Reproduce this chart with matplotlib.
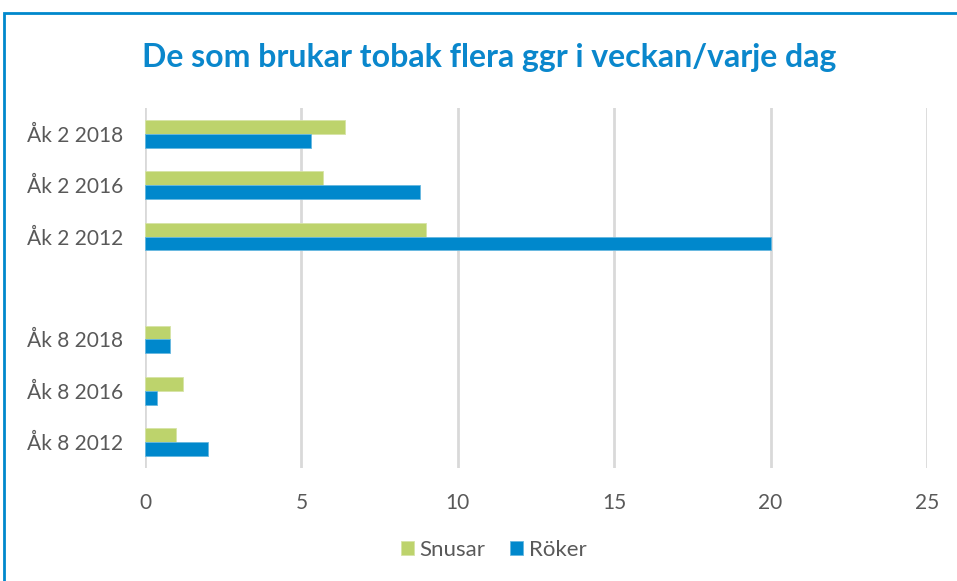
import numpy as np
import matplotlib.pyplot as plt
from matplotlib.patches import Rectangle

plt.rcParams['font.family'] = ['Lato', 'DejaVu Sans']

# data, top to bottom
groups = ["Åk 2 2018", "Åk 2 2016", "Åk 2 2012", "Åk 8 2018", "Åk 8 2016", "Åk 8 2012"]
snusar = [6.4, 5.7, 9.0, 0.8, 1.2, 1.0]
roker = [5.3, 8.8, 20.0, 0.8, 0.4, 2.0]
xticks = [0, 5, 10, 15, 20, 25]

green = "#bdd36c"
blue = "#0088cc"
title_blue = "#0a87cc"
text_gray = "#595959"

fig = plt.figure(figsize=(9.57, 5.81), dpi=100)
ax = fig.add_axes([0.1515, 0.1945, 0.8171, 0.6196])

# empty slot between Åk 2 and Åk 8
pos = np.array([0, 1, 2, 4, 5, 6])
h = 0.27
ax.barh(pos - h / 2, snusar, height=h, color=green, edgecolor="#d6e4a6", linewidth=0.6, label="Snusar", zorder=3)
ax.barh(pos + h / 2, roker, height=h, color=blue, edgecolor="#66b8e0", linewidth=0.6, label="Röker", zorder=3)

ax.set_ylim(6.5, -0.5)
ax.set_xlim(0, 25)
ax.set_yticks(pos)
ax.set_yticklabels(groups, fontsize=15, color=text_gray)
ax.set_xticks(xticks)
ax.set_xticklabels([str(t) for t in xticks], fontsize=15, color=text_gray)
ax.tick_params(length=0)
ax.tick_params(axis="y", pad=16)
ax.tick_params(axis="x", pad=18)
ax.grid(axis="x", color="#d9d9d9", linewidth=2, zorder=0)
for s in ax.spines.values():
    s.set_visible(False)

fig.text(0.511, 1 - 57 / 581, "De som brukar tobak flera ggr i veckan/varje dag",
         ha="center", va="center", fontsize=23, fontweight="bold", color=title_blue)

ax.legend(loc="center", ncol=2, frameon=False, fontsize=16, handlelength=0.6, handleheight=0.6,
          handletextpad=0.25, columnspacing=1.1, labelcolor=text_gray)
leg = ax.get_legend()
leg.set_bbox_to_anchor((0.516, 1 - 550 / 581), transform=fig.transFigure)

# blue frame round the chart
fig.patches.append(Rectangle((4 / 957, -0.1), 1.2, 1 - 13 / 581 + 0.1, transform=fig.transFigure,
                             fill=False, edgecolor="#0088cc", linewidth=2, figure=fig))

fig.savefig("out.png", dpi=100)
